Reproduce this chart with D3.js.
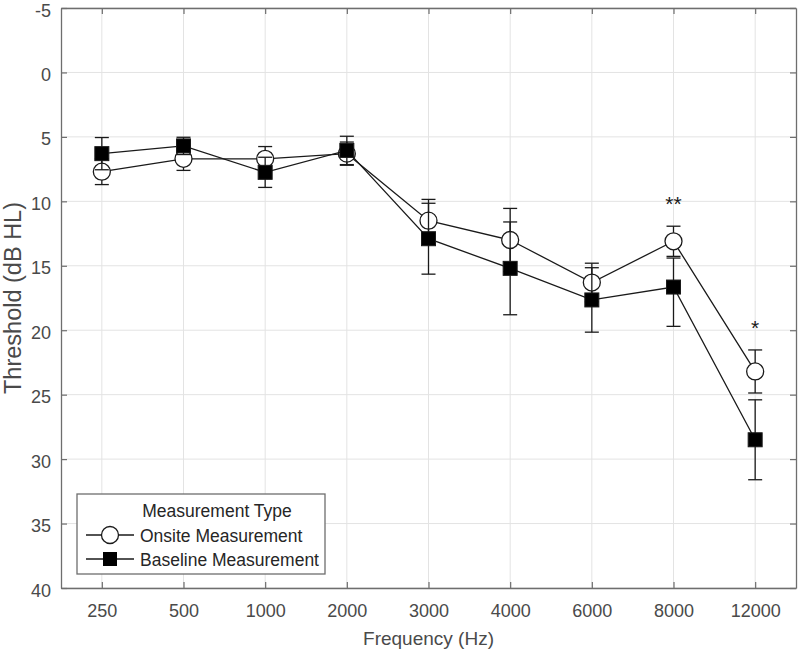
<!DOCTYPE html>
<html><head><meta charset="utf-8">
<script src="https://cdn.jsdelivr.net/npm/d3@7"></script>
<style>body{margin:0;background:#fff}svg{display:block;font-family:Arial,"Liberation Sans",sans-serif}</style>
</head><body><svg id="c" width="800" height="650"></svg>
<script>
const categories = ["250","500","1000","2000","3000","4000","6000","8000","12000"];
const onsite      = [7.7, 6.7, 6.7, 6.3, 11.5, 13.0, 16.3, 13.1, 23.2];
const onsiteErrLo = [1.0, 0.9, 0.95, 0.9, 1.65, 2.45, 1.5, 1.17, 1.67];
const onsiteErrHi = [1.0, 0.9, 0.95, 0.9, 1.65, 2.45, 1.5, 1.17, 1.67];
const baseline      = [6.3, 5.7, 7.75, 6.05, 12.9, 15.2, 17.65, 16.65, 28.5];
const baselineErrLo = [1.25, 0.67, 1.17, 1.1, 2.75, 3.6, 2.5, 2.25, 3.1];
const baselineErrHi = [1.25, 0.67, 1.17, 1.1, 2.75, 3.6, 2.5, 3.05, 3.1];
const significance = ["", "", "", "", "", "", "", "**", "*"];
const yTicks = [-5, 0, 5, 10, 15, 20, 25, 30, 35, 40];

const svg = d3.select("#c");
const L = 61, R = 796, T = 8, B = 588;
const x = d3.scalePoint().domain(categories).range([L, R]).padding(0.5);
const y = d3.scaleLinear().domain([-5, 40]).range([T, B]);
const axisCol = "#6e6e6e", textCol = "#4a4a4a", ink = "#1a1a1a";

// grid
const g = svg.append("g");
g.selectAll(".gx").data(categories).join("line")
  .attr("x1", d => x(d)).attr("x2", d => x(d)).attr("y1", T).attr("y2", B)
  .attr("stroke", "#e3e3e3").attr("stroke-width", 1);
g.selectAll(".gy").data(yTicks).join("line")
  .attr("x1", L).attr("x2", R).attr("y1", d => y(d)).attr("y2", d => y(d))
  .attr("stroke", "#e3e3e3").attr("stroke-width", 1);

// axes (MATLAB style, inward ticks, box)
const ax = svg.append("g");
ax.append("g").attr("transform", `translate(0,${B})`)
  .call(d3.axisBottom(x).tickSizeInner(-6).tickSizeOuter(0).tickPadding(16));
ax.append("g").attr("transform", `translate(0,${T})`)
  .call(d3.axisTop(x).tickSizeInner(-6).tickSizeOuter(0).tickFormat(""));
const yl = ax.append("g").attr("transform", `translate(${L},0)`)
  .call(d3.axisLeft(y).tickValues(yTicks).tickSizeInner(-6).tickSizeOuter(0).tickPadding(10).tickFormat(d => String(d)));
ax.append("g").attr("transform", `translate(${R},0)`)
  .call(d3.axisRight(y).tickValues(yTicks).tickSizeInner(-6).tickSizeOuter(0).tickFormat(""));
ax.selectAll("path.domain").attr("stroke", axisCol).attr("stroke-width", 1.3);
ax.selectAll(".tick line").attr("stroke", axisCol).attr("stroke-width", 1.2);
ax.selectAll(".tick text").attr("fill", textCol).style("font-size", "18px");
yl.selectAll(".tick text").attr("dy", "0.45em");

// axis labels
svg.append("text").attr("x", (L + R) / 2).attr("y", 645).attr("text-anchor", "middle")
  .attr("fill", textCol).style("font-size", "19px").text("Frequency (Hz)");
svg.append("text").attr("transform", `translate(21,${(T + B) / 2}) rotate(-90)`)
  .attr("text-anchor", "middle").attr("fill", textCol).style("font-size", "23.5px").text("Threshold (dB HL)");

function drawSeries(vals, lo, hi, shape) {
  const s = svg.append("g");
  const pts = categories.map((c, i) => ({c, v: vals[i], lo: lo[i], hi: hi[i]}));
  s.selectAll(".eb").data(pts).join("line")
    .attr("x1", d => x(d.c)).attr("x2", d => x(d.c))
    .attr("y1", d => y(d.v - d.lo)).attr("y2", d => y(d.v + d.hi))
    .attr("stroke", ink).attr("stroke-width", 1.3);
  ["lo", "hi"].forEach(k => {
    s.selectAll(".cap" + k).data(pts).join("line")
      .attr("x1", d => x(d.c) - 7).attr("x2", d => x(d.c) + 7)
      .attr("y1", d => y(k === "lo" ? d.v - d.lo : d.v + d.hi))
      .attr("y2", d => y(k === "lo" ? d.v - d.lo : d.v + d.hi))
      .attr("stroke", ink).attr("stroke-width", 1.3);
  });
  s.append("path").datum(pts)
    .attr("d", d3.line().x(d => x(d.c)).y(d => y(d.v)))
    .attr("fill", "none").attr("stroke", ink).attr("stroke-width", 1.3);
  if (shape === "circle") {
    s.selectAll("circle").data(pts).join("circle")
      .attr("cx", d => x(d.c)).attr("cy", d => y(d.v)).attr("r", 8.5)
      .attr("fill", "#fff").attr("stroke", ink).attr("stroke-width", 1.3);
  } else {
    s.selectAll("rect").data(pts).join("rect")
      .attr("x", d => x(d.c) - 7).attr("y", d => y(d.v) - 7)
      .attr("width", 14).attr("height", 14)
      .attr("fill", "#000").attr("stroke", ink).attr("stroke-width", 1);
  }
}
drawSeries(onsite, onsiteErrLo, onsiteErrHi, "circle");
drawSeries(baseline, baselineErrLo, baselineErrHi, "square");

// significance marks
svg.selectAll(".sig").data(categories.map((c, i) => ({c, s: significance[i], v: onsite[i] - onsiteErrLo[i]})))
  .join("text").attr("x", d => x(d.c)).attr("y", d => y(d.v) - 15)
  .attr("text-anchor", "middle").attr("fill", ink).style("font-size", "21px").text(d => d.s);

// legend
const lg = svg.append("g");
lg.append("rect").attr("x", 77).attr("y", 494).attr("width", 248).attr("height", 80)
  .attr("fill", "#fff").attr("stroke", axisCol).attr("stroke-width", 1.3);
lg.append("text").attr("x", 217).attr("y", 517).attr("text-anchor", "middle")
  .attr("fill", "#262626").style("font-size", "17.5px").text("Measurement Type");
const items = [{n: "Onsite Measurement", s: "circle", yy: 535}, {n: "Baseline Measurement", s: "square", yy: 559}];
items.forEach(it => {
  lg.append("line").attr("x1", 86).attr("x2", 134).attr("y1", it.yy).attr("y2", it.yy)
    .attr("stroke", ink).attr("stroke-width", 1.3);
  if (it.s === "circle") lg.append("circle").attr("cx", 110).attr("cy", it.yy).attr("r", 8.5)
    .attr("fill", "#fff").attr("stroke", ink).attr("stroke-width", 1.3);
  else lg.append("rect").attr("x", 103).attr("y", it.yy - 7).attr("width", 14).attr("height", 14).attr("fill", "#000");
  lg.append("text").attr("x", 140).attr("y", it.yy + 7).attr("fill", "#262626")
    .style("font-size", "17.5px").text(it.n);
});
</script></body></html>
